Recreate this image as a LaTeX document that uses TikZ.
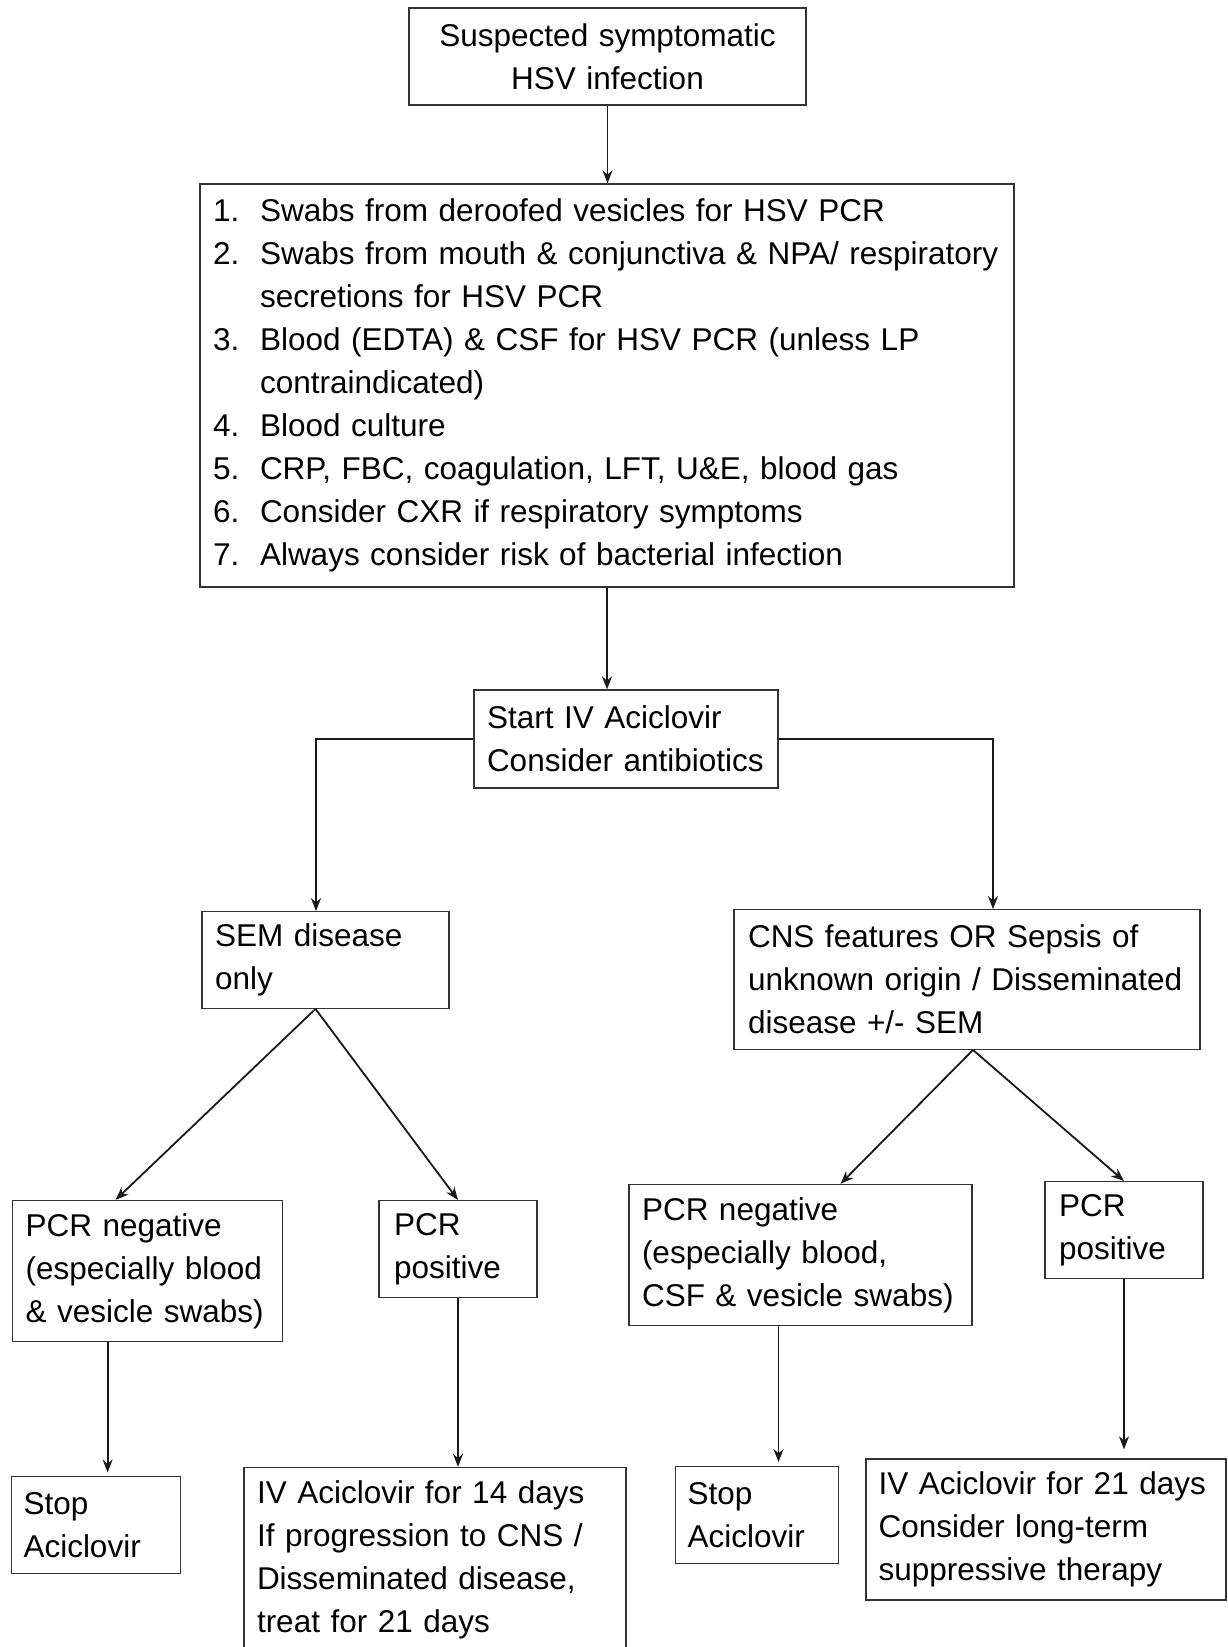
\documentclass[tikz,border=0pt]{standalone}
\usepackage{fontspec}
\setmainfont{Liberation Sans}
\usetikzlibrary{arrows.meta,calc}
\newcommand{\tl}[1]{\mbox{#1}}
\newcommand{\itm}[2]{\mbox{\makebox[47pt][l]{#1}#2}}
\begin{document}
\begin{tikzpicture}[x=1pt,y=-1pt,
  bx/.style={draw=black!80, line width=1.3pt, inner ysep=0pt, font=\fontsize{31.5}{43}\selectfont, align=left},
  conn/.style={line width=1.8pt, draw=black!90, -{Stealth[length=13pt,width=10pt]}},
  thickconn/.style={conn, line width=2.6pt},
]
\useasboundingbox (0,0) rectangle (1227,1647);
\node[bx, align=center, minimum width=397pt, minimum height=97pt, text width=371pt, inner xsep=13pt] (top) at (607.5,56.5) {\tl{Suspected symptomatic}\\\tl{HSV infection}};
\node[bx, minimum width=814pt, minimum height=403pt, text width=788pt, inner xsep=13pt] (list) at (607,385.5)
{\itm{1.}{Swabs from deroofed vesicles for HSV PCR}\\
\itm{2.}{Swabs from mouth \& conjunctiva \& NPA/ respiratory}\\
\itm{}{secretions for HSV PCR}\\
\itm{3.}{Blood (EDTA) \& CSF for HSV PCR (unless LP}\\
\itm{}{contraindicated)}\\
\itm{4.}{Blood culture}\\
\itm{5.}{CRP, FBC, coagulation, LFT, U\&E, blood gas}\\
\itm{6.}{Consider CXR if respiratory symptoms}\\
\itm{7.}{Always consider risk of bacterial infection}};
\node[bx, minimum width=304pt, minimum height=98pt, text width=278pt, inner xsep=13pt] (start) at (626,739) {\tl{Start IV Aciclovir}\\\tl{Consider antibiotics}};
\node[bx, minimum width=247pt, minimum height=96.5pt, text width=221pt, inner xsep=13pt] (sem) at (325.5,960) {\tl{SEM disease}\\\tl{only}};
\node[bx, minimum width=466pt, minimum height=139.5pt, text width=438pt, inner xsep=14pt] (cns) at (967,979.5) {\tl{CNS features OR Sepsis of}\\\tl{unknown origin / Disseminated}\\\tl{disease +/- SEM}};
\node[bx, minimum width=270pt, minimum height=141pt, text width=244pt, inner xsep=13pt] (pnl) at (147.6,1271) {\tl{PCR negative}\\\tl{(especially blood}\\\tl{\& vesicle swabs)}};
\node[bx, minimum width=158pt, minimum height=96.7pt, text width=128pt, inner xsep=15pt] (ppl) at (458,1249) {\tl{PCR}\\\tl{positive}};
\node[bx, minimum width=343pt, minimum height=141pt, text width=317pt, inner xsep=13pt] (pnr) at (800.5,1255) {\tl{PCR negative}\\\tl{(especially blood,}\\\tl{CSF \& vesicle swabs)}};
\node[bx, minimum width=158pt, minimum height=96.7pt, text width=130pt, inner xsep=14pt] (ppr) at (1124,1230) {\tl{PCR}\\\tl{positive}};
\node[bx, minimum width=169pt, minimum height=97.6pt, text width=145pt, inner xsep=12pt] (stopl) at (96,1525) {\tl{Stop}\\\tl{Aciclovir}};
\node[bx, minimum width=382pt, minimum height=184pt, text width=356pt, inner xsep=13pt] (iv14) at (435,1559.5) {\tl{IV Aciclovir for 14 days}\\\tl{If progression to CNS /}\\\tl{Disseminated disease,}\\\tl{treat for 21 days}};
\node[bx, minimum width=163pt, minimum height=96.6pt, text width=139pt, inner xsep=12pt] (stopr) at (757,1515) {\tl{Stop}\\\tl{Aciclovir}};
\node[bx, minimum width=360pt, minimum height=141pt, text width=335pt, inner xsep=12.5pt] (iv21) at (1046,1529.5) {\tl{IV Aciclovir for 21 days}\\\tl{Consider long-term}\\\tl{suppressive therapy}};
% connectors
\draw[conn] (top.south) -- (top.south |- list.north);
\draw[conn] (list.south) -- (list.south |- start.north);
\draw[thickconn] (start.west) -| ($(sem.north)+(-9.5,0)$);
\draw[thickconn] (start.east) -| ($(cns.north)+(26,0)$);
\coordinate (semb) at ($(sem.south)+(-10,0)$);
\coordinate (cnsb) at ($(cns.south)+(6,0)$);
\draw[conn] (semb) -- ($(pnl.north)+(-32,0)$);
\draw[conn] (semb) -- (ppl.north);
\draw[conn] (cnsb) -- ($(pnr.north)+(40,0)$);
\draw[conn] (cnsb) -- (ppr.north);
\coordinate (pnlb) at ($(pnl.south)+(-40,0)$);
\coordinate (pnrb) at ($(pnr.south)+(-22,0)$);
\draw[conn, shorten >=3pt] (pnlb) -- (pnlb |- stopl.north);
\draw[conn] (ppl.south) -- (ppl.south |- iv14.north);
\draw[conn, shorten >=4pt] (pnrb) -- (pnrb |- stopr.north);
\draw[conn, shorten >=9pt] (ppr.south) -- (ppr.south |- iv21.north);
\end{tikzpicture}
\end{document}
